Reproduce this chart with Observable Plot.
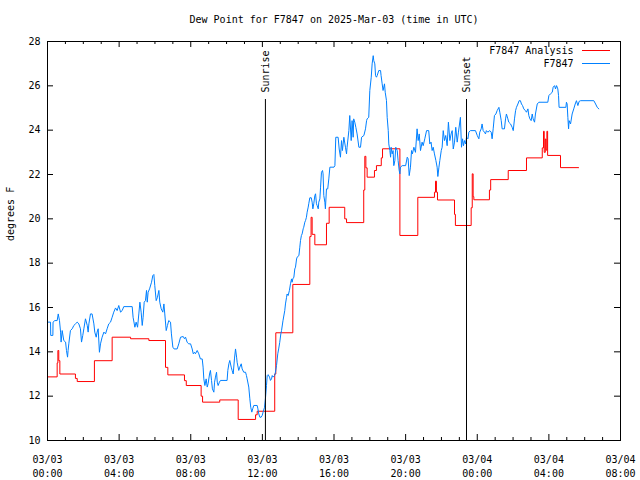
<!DOCTYPE html>
<html><head><meta charset="utf-8">
<script src="https://cdn.jsdelivr.net/npm/d3@7"></script>
<script src="https://cdn.jsdelivr.net/npm/@observablehq/plot@0.6"></script>
<style>html,body{margin:0;padding:0;background:#fff;} svg{display:block}</style>
</head><body><div id="chart"></div>
<script>
const title = "Dew Point for F7847 on 2025-Mar-03 (time in UTC)";
const yLabel = "degrees F";
const seriesNames = ["F7847 Analysis", "F7847"];
const seriesColors = ["#ff0000", "#0080ff"];

// hours since 2025-03-03 00:00 UTC
const redHours = [0,0.54,0.58,0.63,0.69,1.56,1.66,2.62,3.61,4.64,5.66,6.59,6.72,7.65,7.75,8.58,8.66,9.62,10.65,11.62,11.71,12.69,12.75,13.70,14.65,14.72,14.78,14.93,15.58,15.73,16.60,16.70,17.66,17.72,17.78,17.85,18.26,18.37,18.64,18.71,19.68,20.68,21.61,21.67,21.72,21.78,22.73,22.78,23.66,23.72,23.77,23.81,24.68,24.75,25.73,26.75,27.63,27.70,27.74,27.80,27.84,27.89,27.93,28.65,29.67];
const redValues = [12.87,13.5,14.06,13.6,13.0,12.8,12.66,13.6,14.66,14.59,14.51,13.3,12.96,12.7,12.48,12.0,11.73,11.83,10.95,11.16,11.32,13.0,14.86,17.04,19.2,20.07,19.3,18.83,19.8,20.52,20.0,19.83,21.3,22.82,22.3,21.88,22.18,22.4,22.75,23.16,19.25,20.97,21.2,21.7,21.2,20.85,20.2,19.7,20.5,22.03,21.0,20.86,21.3,21.77,22.18,22.75,23.2,23.95,23.0,23.6,23.1,23.95,22.86,22.31,22.31];

const blueHours = [0,0.17,0.18,0.30,0.31,0.41,0.54,0.60,0.67,0.73,0.76,0.82,0.91,1.01,1.06,1.12,1.15,1.19,1.28,1.38,1.47,1.56,1.66,1.75,1.84,1.90,1.97,2.03,2.12,2.22,2.27,2.31,2.40,2.49,2.59,2.64,2.72,2.77,2.83,2.90,2.96,3.05,3.15,3.24,3.33,3.42,3.52,3.61,3.70,3.80,3.89,3.98,4.08,4.17,4.26,4.73,4.78,4.88,4.95,5.03,5.10,5.16,5.23,5.29,5.34,5.40,5.47,5.53,5.57,5.62,5.70,5.81,5.88,5.94,5.99,6.07,6.14,6.22,6.27,6.35,6.44,6.50,6.55,6.63,6.70,6.77,6.87,6.92,7.00,
7.07,7.24,7.33,7.43,7.58,7.65,7.71,7.80,7.89,7.99,8.08,8.14,8.21,8.26,8.36,8.45,8.54,8.64,8.69,8.73,8.79,8.86,8.92,8.97,9.05,9.10,9.16,9.21,9.29,9.33,9.38,9.44,9.48,9.53,9.60,9.66,10.03,10.07,10.13,10.18,10.26,10.31,10.37,10.44,10.50,10.56,10.59,10.68,10.74,10.82,10.87,10.96,11.06,11.11,11.15,11.24,11.30,11.35,11.41,11.46,11.52,11.71,11.75,11.80,11.86,11.93,11.99,12.04,12.12,12.17,12.23,12.27,12.32,12.40,12.45,12.51,12.55,12.60,12.68,12.73,12.79,12.86,12.91,12.97,13.03,13.07,13.15,
13.25,13.29,13.35,13.38,13.44,13.51,13.57,13.63,13.66,13.70,13.76,13.81,13.85,13.91,13.94,14.04,14.09,14.13,14.18,14.22,14.28,14.31,14.37,14.41,14.46,14.50,14.56,14.59,14.65,14.73,14.78,14.82,14.87,14.93,14.97,15.02,15.06,15.12,15.15,15.21,15.25,15.30,15.36,15.39,15.43,15.49,15.52,15.58,15.65,15.71,15.77,16.00,16.05,
16.10,16.23,16.29,16.36,16.42,16.47,16.55,16.64,16.70,16.73,16.83,16.88,16.96,17.01,17.07,17.10,17.16,17.22,17.29,17.39,
17.48,17.54,17.67,17.76,17.82,17.85,17.94,18.00,18.08,18.13,18.19,18.22,18.28,18.32,18.37,18.41,18.50,18.60,18.63,18.69,18.74,18.82,18.86,18.93,18.97,19.03,19.06,19.12,19.16,19.19,19.25,19.30,19.34,19.40,19.45,19.53,19.58,19.64,19.68,19.71,19.81,20.00,20.09,20.14,20.20,20.27,20.33,20.38,20.46,20.55,20.64,20.70,20.76,20.83,20.92,20.98,21.07,21.17,21.29,21.35,21.42,21.48,21.54,21.61,21.69,21.76,21.80,21.86,21.91,21.99,22.04,22.10,22.17,22.24,22.32,22.39,22.47,22.54,22.60,22.66,22.73,22.80,22.88,22.95,
23.06,23.12,23.18,23.23,23.29,23.35,23.40,23.48,23.53,23.62,23.90,24.00,24.09,24.14,24.22,24.27,24.33,24.40,24.46,24.51,24.59,24.70,24.78,24.83,24.89,24.96,25.04,25.11,25.21,25.26,25.34,25.39,25.52,25.58,25.63,25.71,25.76,25.86,25.95,26.01,26.08,26.14,26.19,26.27,26.34,26.41,26.47,26.53,26.60,26.69,26.75,26.83,26.88,26.94,27.01,27.07,27.12,27.20,27.25,27.35,27.44,27.94,28.00,28.09,28.19,28.24,28.32,28.37,28.43,28.50,28.54,28.57,28.95,28.98,29.02,29.06,29.10,29.13,29.21,29.30,29.39,29.47,29.54,29.62,29.69,29.77,30.51,30.61,30.70,30.79];
const blueValues = [15.34,15.34,14.74,14.74,15.34,15.41,15.41,15.71,15.41,14.89,14.44,14.96,14.51,14.44,14.06,13.76,14.06,14.36,14.96,15.04,15.19,15.26,15.34,15.26,15.04,14.44,14.74,15.04,15.49,15.19,14.89,15.26,15.71,15.71,15.26,14.89,14.66,14.89,15.04,13.98,14.36,14.66,14.89,14.81,15.04,15.26,15.34,15.56,15.79,15.98,15.86,16.09,15.79,15.86,16.04,16.04,15.56,15.11,15.34,15.11,15.71,16.24,15.79,15.19,15.56,16.24,16.31,16.77,16.24,16.69,16.84,17.14,17.44,17.49,17.0,16.31,16.46,16.77,16.24,15.94,15.79,16.16,15.71,14.96,15.19,15.41,15.34,14.81,14.21,
14.13,14.13,14.36,14.66,14.69,14.59,14.66,14.43,14.36,14.36,14.13,13.91,13.98,13.91,14.06,13.91,13.68,13.68,13.31,12.78,12.48,12.78,12.41,12.56,13.0,13.16,12.71,12.33,12.18,12.63,12.86,13.08,12.63,12.48,12.63,12.71,12.71,13.16,13.46,13.61,13.31,13.16,13.0,13.68,14.13,13.76,13.53,13.16,13.31,13.46,13.23,13.08,13.08,12.93,12.78,12.41,11.88,11.50,11.28,11.43,11.58,11.58,11.43,11.20,11.05,11.05,11.13,11.28,11.50,11.88,12.48,12.93,12.97,12.86,12.71,12.78,12.93,12.86,12.93,13.08,13.38,13.91,14.13,14.43,14.81,14.96,15.4,
15.86,16.16,16.46,16.61,16.54,16.77,17.07,17.29,17.14,17.29,17.37,17.74,17.82,18.19,18.27,18.34,18.72,19.02,19.25,19.32,19.55,19.62,19.85,19.92,20.07,20.30,20.53,20.68,20.95,20.95,20.75,20.45,20.68,21.05,21.13,20.68,20.60,20.45,20.75,20.90,21.43,22.10,22.18,22.03,21.05,20.75,20.45,21.35,21.35,21.80,22.33,22.33,22.4,
23.68,23.68,23.15,22.78,23.53,23.08,23.68,23.23,22.93,23.23,23.98,24.66,23.53,24.43,23.68,24.51,24.36,24.13,23.83,23.23,
23.23,23.68,23.76,24.06,24.43,24.51,24.58,25.79,26.39,26.99,27.36,27.14,26.99,26.46,26.39,26.46,26.69,26.69,26.46,26.09,25.79,26.09,25.71,25.34,24.58,23.98,23.38,23.08,22.78,23.23,22.93,23.08,22.40,22.63,23.23,23.08,22.63,22.18,22.03,22.33,22.40,22.40,22.78,22.71,21.95,22.33,23.08,22.93,23.23,23.0,24.06,23.53,23.83,23.08,23.46,23.30,23.61,23.98,23.98,23.38,23.46,23.08,23.23,22.93,22.63,22.33,21.91,22.33,22.63,23.08,23.23,23.98,23.53,23.76,23.30,24.36,23.53,23.83,23.98,23.15,23.46,24.13,23.46,23.91,
24.58,23.23,23.61,23.30,23.53,23.38,23.68,23.61,23.91,23.98,23.98,23.76,23.61,23.91,24.06,24.28,23.98,23.91,23.83,23.98,23.91,23.98,23.91,23.61,24.06,24.66,24.73,24.88,25.03,24.81,24.43,24.06,24.06,24.51,24.73,24.51,24.36,24.28,24.13,23.98,24.51,24.88,25.03,25.18,25.33,25.33,25.18,25.11,24.96,24.88,24.81,24.96,24.66,24.51,24.43,24.73,24.51,24.36,24.73,25.18,25.26,25.26,25.56,25.64,25.71,25.94,26.01,25.86,26.01,25.86,25.56,25.03,25.03,25.26,25.18,24.58,24.06,24.43,24.28,24.73,24.96,25.18,25.33,25.11,25.30,25.33,25.33,25.18,25.03,24.96];

const sunEvents = ["Sunrise", "Sunset"];
const sunHours = [12.17, 23.40];

const xTickHours = [0, 4, 8, 12, 16, 20, 24, 28, 32];
const xTickLabels = ["03/03\n00:00","03/03\n04:00","03/03\n08:00","03/03\n12:00","03/03\n16:00","03/03\n20:00","03/04\n00:00","03/04\n04:00","03/04\n08:00"];
const xMinorHours = [1,2,3,5,6,7,9,10,11,13,14,15,17,18,19,21,22,23,25,26,27,29,30,31];
const yTicks = [10, 12, 14, 16, 18, 20, 22, 24, 26, 28];

const red = redHours.map((h, i) => ({h, v: redValues[i]}));
const blue = blueHours.map((h, i) => ({h, v: blueValues[i]}));
const sun = sunEvents.map((name, i) => ({name, h: sunHours[i]}));

const font = "DejaVu Sans Mono";
const chart = Plot.plot({
  width: 640, height: 480,
  marginLeft: 47, marginRight: 20, marginTop: 41, marginBottom: 40,
  style: {fontFamily: font, fontSize: "10px", background: "#fff", color: "#000"},
  x: {type: "linear", domain: [0, 32]},
  y: {domain: [10, 28]},
  marks: [
    Plot.line(red, {x: "h", y: "v", stroke: seriesColors[0], strokeWidth: 1, curve: "step-after"}),
    Plot.line(blue, {x: "h", y: "v", stroke: seriesColors[1], strokeWidth: 1}),
    Plot.ruleX(sun, {x: "h", insetTop: 58, stroke: "#000", strokeWidth: 1}),
    Plot.text(sun, {x: "h", text: "name", frameAnchor: "top", dy: 51, rotate: -90, textAnchor: "start", lineAnchor: "middle", fill: "#000"}),
    Plot.frame({stroke: "#000", strokeWidth: 1}),
    Plot.tickX(xMinorHours, {x: d => d, insetTop: 396, stroke: "#000"}),
    Plot.tickX(xMinorHours, {x: d => d, insetBottom: 396, stroke: "#000"}),
    Plot.tickX(xTickHours, {x: d => d, insetTop: 393, stroke: "#000"}),
    Plot.tickX(xTickHours, {x: d => d, insetBottom: 393, stroke: "#000"}),
    Plot.tickY(yTicks, {y: d => d, insetRight: 567, stroke: "#000"}),
    Plot.tickY(yTicks, {y: d => d, insetLeft: 567, stroke: "#000"}),
    Plot.axisX(xTickHours, {tickSize: 0, tickPadding: 13, lineHeight: 1.35, tickFormat: d => xTickLabels[xTickHours.indexOf(d)], label: null}),
    Plot.axisY(yTicks, {tickSize: 0, tickPadding: 7, tickFormat: d => String(d), label: null}),
    Plot.text([yLabel], {frameAnchor: "left", dx: -37, rotate: -90, lineAnchor: "middle", fill: "#000"}),
    Plot.text([title], {frameAnchor: "top", dy: -22, lineAnchor: "middle", fill: "#000"}),
    Plot.text([seriesNames[0]], {frameAnchor: "top-right", dx: -47, dy: 9, textAnchor: "end", lineAnchor: "middle", fill: "#000"}),
    Plot.text([seriesNames[1]], {frameAnchor: "top-right", dx: -47, dy: 22, textAnchor: "end", lineAnchor: "middle", fill: "#000"}),
    Plot.ruleY([28], {dy: 9, insetLeft: 535, insetRight: 10, stroke: seriesColors[0], strokeWidth: 1}),
    Plot.ruleY([28], {dy: 22, insetLeft: 535, insetRight: 10, stroke: seriesColors[1], strokeWidth: 1})
  ]
});
document.getElementById("chart").appendChild(chart);
</script>
</body></html>
